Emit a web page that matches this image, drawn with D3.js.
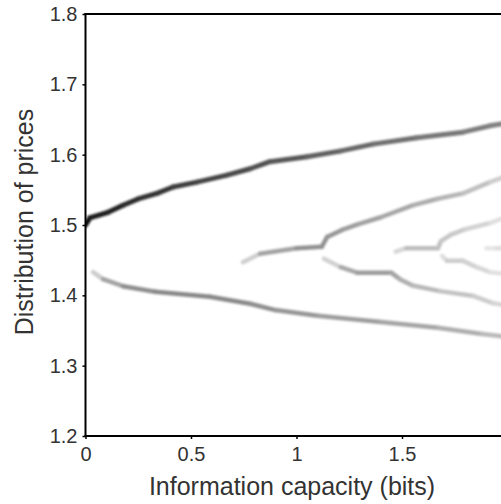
<!DOCTYPE html>
<html>
<head>
<meta charset="utf-8">
<script src="https://cdn.jsdelivr.net/npm/d3@7"></script>
<style>
  html, body { margin: 0; padding: 0; background: #fff; overflow: hidden; }
  svg { display: block; }
</style>
</head>
<body>
<svg id="chart" width="501" height="504"></svg>
<script>
// ---- data ----
const xTickValues = [0, 0.5, 1, 1.5];
const xTickLabels = ["0", "0.5", "1", "1.5"];
const yTickValues = [1.2, 1.3, 1.4, 1.5, 1.6, 1.7, 1.8];
const yTickLabels = ["1.2", "1.3", "1.4", "1.5", "1.6", "1.7", "1.8"];
const xLabel = "Information capacity (bits)";
const yLabel = "Distribution of prices";

// branches of the price distribution: x, y and density (0..1 darkness)
const topX = [0, 0.02, 0.107, 0.178, 0.249, 0.339, 0.415, 0.528, 0.671, 0.78, 0.874, 1.05, 1.206, 1.363, 1.571, 1.789, 1.917, 2.0];
const topY = [1.500, 1.510, 1.518, 1.528, 1.537, 1.545, 1.554, 1.561, 1.571, 1.580, 1.590, 1.597, 1.605, 1.615, 1.624, 1.632, 1.641, 1.645];
const topD = [0.98, 0.92, 0.88, 0.85, 0.82, 0.8, 0.78, 0.75, 0.72, 0.7, 0.68, 0.64, 0.61, 0.58, 0.55, 0.52, 0.5, 0.48];

const lowX = [0.036, 0.083, 0.178, 0.33, 0.59, 0.78, 0.90, 1.10, 1.40, 1.67, 1.88, 2.0];
const lowY = [1.433, 1.423, 1.413, 1.405, 1.398, 1.388, 1.379, 1.371, 1.362, 1.354, 1.345, 1.341];
const lowD = [0.1, 0.3, 0.42, 0.47, 0.47, 0.46, 0.43, 0.4, 0.37, 0.34, 0.3, 0.25];

const midUpX = [0.746, 0.827, 1.00, 1.12, 1.145, 1.216, 1.29, 1.40, 1.55, 1.665, 1.79, 1.917, 2.0];
const midUpY = [1.447, 1.459, 1.467, 1.469, 1.483, 1.493, 1.501, 1.511, 1.528, 1.537, 1.545, 1.561, 1.570];
const midUpD = [0.08, 0.3, 0.42, 0.44, 0.42, 0.4, 0.38, 0.36, 0.34, 0.31, 0.28, 0.22, 0.18];

const midLowX = [1.13, 1.21, 1.29, 1.45, 1.49, 1.55, 1.68, 1.84, 1.93, 2.0];
const midLowY = [1.452, 1.440, 1.432, 1.432, 1.423, 1.414, 1.406, 1.399, 1.389, 1.385];
const midLowD = [0.08, 0.28, 0.4, 0.38, 0.33, 0.3, 0.26, 0.22, 0.18, 0.15];

const inUpX = [1.47, 1.52, 1.67, 1.685, 1.73, 1.80, 1.92, 2.0];
const inUpY = [1.462, 1.467, 1.467, 1.477, 1.486, 1.494, 1.503, 1.512];
const inUpD = [0.05, 0.26, 0.26, 0.23, 0.22, 0.2, 0.15, 0.1];

const inLowX = [1.69, 1.713, 1.789, 1.855, 1.917, 2.0];
const inLowY = [1.456, 1.449, 1.449, 1.440, 1.433, 1.430];
const inLowD = [0.05, 0.2, 0.2, 0.17, 0.14, 0.1];

const inMidX = [1.90, 1.95, 2.0];
const inMidY = [1.467, 1.467, 1.467];
const inMidD = [0.05, 0.15, 0.12];

const branches = [
  { x: topX, y: topY, d: topD, w: 5 },
  { x: lowX, y: lowY, d: lowD, w: 4.5 },
  { x: midUpX, y: midUpY, d: midUpD, w: 4.5 },
  { x: midLowX, y: midLowY, d: midLowD, w: 4.5 },
  { x: inUpX, y: inUpY, d: inUpD, w: 4.5 },
  { x: inLowX, y: inLowY, d: inLowD, w: 4.5 },
  { x: inMidX, y: inMidY, d: inMidD, w: 4.5 }
];

// ---- layout ----
const svg = d3.select("#chart");
const mLeft = 85.5, mTop = 14, mBottom = 436, mRight = 507.5;
const x = d3.scaleLinear().domain([0, 2]).range([mLeft, mRight]);
const y = d3.scaleLinear().domain([1.2, 1.8]).range([mBottom, mTop]);
const shade = d3.interpolateRgb("#ffffff", "#000000");

const defs = svg.append("defs");
defs.append("filter").attr("id", "blur")
  .attr("x", "-10%").attr("y", "-10%").attr("width", "120%").attr("height", "120%")
  .append("feGaussianBlur").attr("stdDeviation", 1);
defs.append("clipPath").attr("id", "plotclip")
  .append("rect").attr("x", mLeft).attr("y", mTop).attr("width", mRight - mLeft).attr("height", mBottom - mTop);

const marks = svg.append("g").attr("clip-path", "url(#plotclip)")
  .append("g").attr("filter", "url(#blur)");

branches.forEach(b => {
  const segs = d3.range(b.x.length - 1).map(i => ({
    x1: b.x[i], y1: b.y[i], x2: b.x[i + 1], y2: b.y[i + 1], d: (b.d[i] + b.d[i + 1]) / 2
  }));
  marks.selectAll(null).data(segs).enter().append("line")
    .attr("x1", s => x(s.x1)).attr("y1", s => y(s.y1))
    .attr("x2", s => x(s.x2)).attr("y2", s => y(s.y2))
    .attr("stroke", s => shade(s.d))
    .attr("stroke-width", b.w)
    .attr("stroke-linecap", "round");
});

// ---- axes ----
const font = "'Liberation Sans', Arial, sans-serif";
const yAxis = d3.axisLeft(y).tickValues(yTickValues)
  .tickFormat((d, i) => yTickLabels[i]).tickSize(3).tickPadding(5);
const gy = svg.append("g").attr("transform", `translate(${mLeft},0)`).call(yAxis);
gy.select(".domain").remove();

const xAxis = d3.axisBottom(x).tickValues(xTickValues)
  .tickFormat((d, i) => xTickLabels[i]).tickSize(3).tickPadding(8);
const gx = svg.append("g").attr("transform", `translate(0,${mBottom})`).call(xAxis);
gx.select(".domain").remove();

[gx, gy].forEach(g => {
  g.selectAll("text").attr("font-family", font).attr("font-size", 20).attr("fill", "#333");
  g.selectAll(".tick line").attr("stroke", "#000").attr("stroke-width", 1.5);
});

// frame lines
svg.append("line").attr("x1", mLeft).attr("x2", mLeft).attr("y1", mTop - 1).attr("y2", mBottom + 1)
  .attr("stroke", "#000").attr("stroke-width", 2);
svg.append("line").attr("x1", mLeft - 1).attr("x2", 501).attr("y1", mBottom).attr("y2", mBottom)
  .attr("stroke", "#000").attr("stroke-width", 2);
svg.append("line").attr("x1", mLeft - 1).attr("x2", 501).attr("y1", mTop).attr("y2", mTop)
  .attr("stroke", "#000").attr("stroke-width", 2);

// axis labels
svg.append("text").attr("x", 292).attr("y", 495)
  .attr("text-anchor", "middle").attr("font-family", font).attr("font-size", 25).attr("fill", "#333")
  .text(xLabel);
svg.append("text").attr("transform", "translate(33,222) rotate(-90)")
  .attr("text-anchor", "middle").attr("font-family", font).attr("font-size", 25).attr("fill", "#333")
  .text(yLabel);
</script>
</body>
</html>
